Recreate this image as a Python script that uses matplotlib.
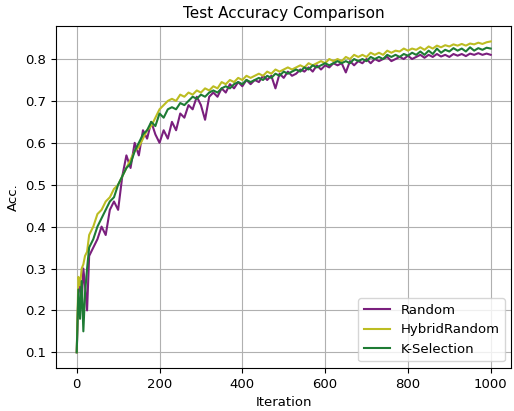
import matplotlib
matplotlib.use('Agg')
import matplotlib.pyplot as plt

plt.rcParams['font.size'] = 9.5

# iteration positions (denser at the start where the curves jump around)
iterations = [0, 4, 8, 12, 16, 20, 25] + list(range(30, 1001, 10))

acc_random = [
    0.10, 0.24, 0.27, 0.22, 0.30, 0.26, 0.20,
    0.33, 0.35, 0.37, 0.40, 0.38, 0.44, 0.46, 0.44, 0.52, 0.57,
    0.54, 0.60, 0.57, 0.63, 0.61, 0.65, 0.62, 0.60, 0.63, 0.61,
    0.65, 0.63, 0.67, 0.66, 0.69, 0.68, 0.71, 0.69, 0.655, 0.71,
    0.72, 0.71, 0.73, 0.72, 0.74, 0.73, 0.745, 0.735, 0.75, 0.74,
    0.75, 0.745, 0.76, 0.75, 0.76, 0.73, 0.765, 0.755, 0.77, 0.76,
    0.765, 0.775, 0.77, 0.78, 0.77, 0.785, 0.775, 0.785, 0.78, 0.79,
    0.785, 0.79, 0.768, 0.795, 0.785, 0.795, 0.79, 0.80, 0.79, 0.80,
    0.795, 0.80, 0.805, 0.795, 0.80, 0.805, 0.80, 0.808, 0.80, 0.805,
    0.81, 0.803, 0.81, 0.805, 0.812, 0.806, 0.81, 0.805, 0.812, 0.808,
    0.812, 0.807, 0.813, 0.81, 0.814, 0.81, 0.813, 0.81,
]

acc_hybrid = [
    0.10, 0.28, 0.26, 0.30, 0.31, 0.33, 0.34,
    0.38, 0.40, 0.43, 0.44, 0.46, 0.47, 0.49, 0.50, 0.52, 0.54,
    0.56, 0.58, 0.59, 0.61, 0.63, 0.64, 0.66, 0.68, 0.69, 0.70,
    0.705, 0.70, 0.715, 0.71, 0.72, 0.715, 0.725, 0.72, 0.73, 0.725,
    0.735, 0.73, 0.745, 0.74, 0.75, 0.745, 0.755, 0.75, 0.76, 0.755,
    0.76, 0.765, 0.76, 0.77, 0.765, 0.775, 0.77, 0.775, 0.78, 0.775,
    0.78, 0.785, 0.78, 0.79, 0.785, 0.79, 0.795, 0.79, 0.80, 0.795,
    0.80, 0.795, 0.805, 0.80, 0.81, 0.805, 0.81, 0.805, 0.815, 0.81,
    0.815, 0.81, 0.82, 0.815, 0.82, 0.818, 0.825, 0.82, 0.825, 0.822,
    0.828, 0.822, 0.83, 0.825, 0.832, 0.828, 0.833, 0.83, 0.835, 0.832,
    0.836, 0.832, 0.837, 0.835, 0.839, 0.836, 0.84, 0.842,
]

acc_kselection = [
    0.10, 0.25, 0.18, 0.27, 0.15, 0.24, 0.30,
    0.35, 0.37, 0.40, 0.42, 0.44, 0.46, 0.47, 0.50, 0.52, 0.54,
    0.55, 0.58, 0.60, 0.62, 0.63, 0.65, 0.64, 0.67, 0.66, 0.68,
    0.685, 0.68, 0.695, 0.69, 0.70, 0.71, 0.705, 0.715, 0.71, 0.72,
    0.725, 0.72, 0.73, 0.735, 0.73, 0.74, 0.745, 0.74, 0.75, 0.745,
    0.75, 0.755, 0.75, 0.76, 0.755, 0.765, 0.76, 0.77, 0.765, 0.77,
    0.775, 0.77, 0.78, 0.775, 0.785, 0.78, 0.785, 0.79, 0.785, 0.79,
    0.795, 0.79, 0.795, 0.79, 0.80, 0.795, 0.80, 0.795, 0.805, 0.80,
    0.805, 0.80, 0.81, 0.805, 0.81, 0.805, 0.812, 0.808, 0.815, 0.81,
    0.818, 0.81, 0.82, 0.812, 0.825, 0.815, 0.822, 0.818, 0.826, 0.82,
    0.825, 0.818, 0.828, 0.82, 0.826, 0.822, 0.827, 0.825,
]

fig = plt.figure(figsize=(5.14, 4.11), dpi=100)
ax = fig.add_axes([0.109, 0.105, 0.886, 0.832])

ax.plot(iterations, acc_random, color='#7a1f7d', lw=1.5, label='Random')
ax.plot(iterations, acc_hybrid, color='#bcbd22', lw=1.5, label='HybridRandom')
ax.plot(iterations, acc_kselection, color='#1e7b34', lw=1.5, label='K-Selection')

ax.set_title('Test Accuracy Comparison', fontsize=11)
ax.set_xlabel('Iteration')
ax.set_ylabel('Acc.')
ax.grid(True)
ax.legend(loc='lower right')

plt.savefig('out.png', dpi=100)
